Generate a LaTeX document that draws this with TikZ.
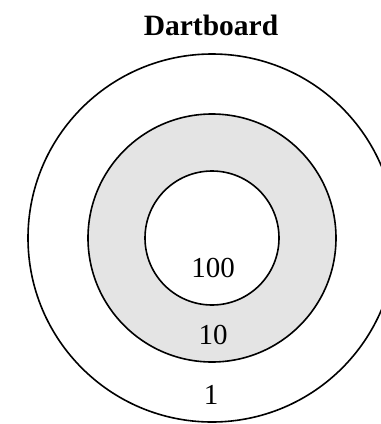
\documentclass[tikz,border=0pt]{standalone}
\usepackage{fontspec}
\setmainfont{Liberation Serif}
\usetikzlibrary{positioning}
\definecolor{ringgray}{HTML}{E4E4E4}
\tikzset{
  ring/.style  ={draw, circle, line width=1.6pt, inner sep=0pt},
  score/.style ={font=\fontsize{29}{30}\selectfont, inner sep=0pt},
  ttl/.style   ={font=\fontsize{29.5}{30}\bfseries\selectfont, inner sep=0pt},
}

\begin{document}
\begin{tikzpicture}[x=1pt,y=-1pt]
\useasboundingbox (0,0) rectangle (381,424);
\clip (0,0) rectangle (381,424);

\coordinate (c) at (212,238);
\node[ring, minimum size=368pt] (outer) at (c) {};
\node[ring, fill=ringgray, minimum size=248pt] (mid) at (c) {};
\node[ring, fill=white, minimum size=134pt] (inner) at (c) {};

\node[ttl] (title) at (211,25) {Dartboard};
\node[score] (s100) at (213,268) {100};
\node[score] (s10) at (213,335) {10};
\node[score] (s1) at (211,395) {1};

\end{tikzpicture}
\end{document}
